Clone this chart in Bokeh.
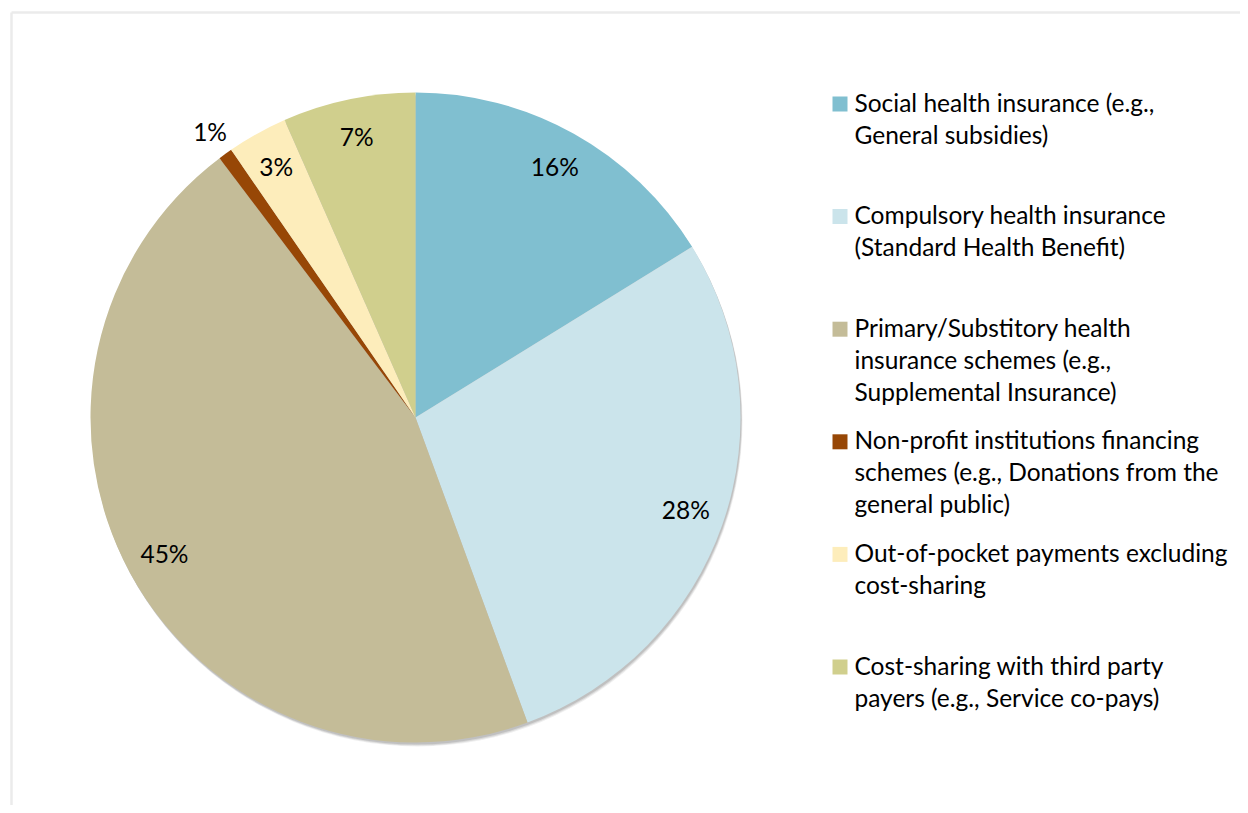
import math
from bokeh.plotting import figure
from bokeh.models import Range1d, ColumnDataSource
from bokeh.core.properties import value
from bokeh.embed import file_html
from bokeh.resources import INLINE

# ---- data ----
categories = [
    "Social health insurance (e.g.,\nGeneral subsidies)",
    "Compulsory health insurance\n(Standard Health Benefit)",
    "Primary/Substitory health\ninsurance schemes (e.g.,\nSupplemental Insurance)",
    "Non-profit institutions financing\nschemes (e.g., Donations from the\ngeneral public)",
    "Out-of-pocket payments excluding\ncost-sharing",
    "Cost-sharing with third party\npayers (e.g., Service co-pays)",
]
shares = [16.2, 28.2, 45.3, 0.7, 3.0, 6.6]
colors = ["#80BFD0", "#CBE4EB", "#C4BC98", "#974706", "#FDEDBB", "#D0CF8D"]

FONT = "Lato"
FS = "24.5px"

W, H = 1240, 805
p = figure(width=W, height=H, output_backend="svg", toolbar_location=None,
           x_range=Range1d(0, W), y_range=Range1d(-H, 0),
           min_border=0, outline_line_color=None)
p.axis.visible = False
p.grid.visible = False
p.background_fill_color = "white"
p.border_fill_color = "white"

# chart area frame (light)
p.segment(x0=[11, 11], y0=[-12, -12], x1=[11, W], y1=[-H, -12],
          line_color="#ebebeb", line_width=2.5)

cx, cy, R = 415, -417, 325

# soft shadow
for dx, dy, a in [(2, -4, 0.10), (1.5, -3, 0.15), (1, -2, 0.2)]:
    p.circle(x=[cx + dx], y=[cy + dy], radius=R, fill_color="#606060",
             fill_alpha=a, line_color=None)

total = sum(shares)
starts, ends, lx, ly, labels = [], [], [], [], []
cum = 0.0
for v in shares:
    f0 = cum / total
    f1 = (cum + v) / total
    starts.append(math.pi / 2 - 2 * math.pi * f0)
    ends.append(math.pi / 2 - 2 * math.pi * f1)
    mid = math.pi / 2 - 2 * math.pi * (f0 + f1) / 2
    r = R * (0.88 if v >= 2 else 1.08)
    lx.append(cx + r * math.cos(mid))
    ly.append(cy + r * math.sin(mid))
    labels.append(f"{round(v)}%")
    cum += v

src = ColumnDataSource(dict(start=starts, end=ends, color=colors))
p.wedge(x=cx, y=cy, radius=R, start_angle="start", end_angle="end",
        direction="clock", fill_color="color", line_color=None, source=src)

p.text(x=lx, y=ly, text=labels, text_font=value(FONT), text_font_size=FS,
       text_color="#000000", text_align="center", text_baseline="alphabetic",
       y_offset=-1)

# legend
leg_x_sq = 839.5
leg_x_txt = 854
first_base = 111
item_gap = 112.6
line_gap = 32
text_shift = 9.5
tx, ty, tt = [], [], []
sx, sy = [], []
for i, cat in enumerate(categories):
    base = first_base + i * item_gap
    sx.append(leg_x_sq)
    sy.append(-(base - 7.5))
    for j, line in enumerate(cat.split("\n")):
        tx.append(leg_x_txt)
        ty.append(-(base + j * line_gap - text_shift))
        tt.append(line)
p.rect(x=sx, y=sy, width=15, height=15, fill_color=colors, line_color=None)
p.text(x=tx, y=ty, text=tt, text_font=value(FONT), text_font_size=FS,
       text_color="#000000", text_align="left", text_baseline="alphabetic")

open("out.html", "w").write(file_html(p, INLINE))
